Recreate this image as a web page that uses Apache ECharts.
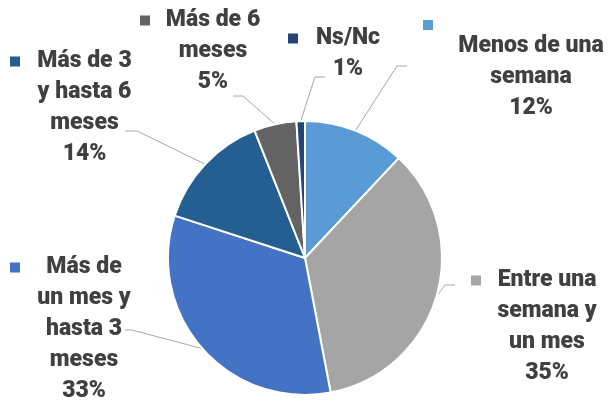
<!DOCTYPE html>
<html>
<head>
<meta charset="utf-8">
<script src="https://cdn.jsdelivr.net/npm/echarts@6/dist/echarts.min.js"></script>
<style>
  html, body { margin: 0; padding: 0; background: #fff; }
  #chart { width: 610px; height: 402px; }
</style>
</head>
<body>
<div id="chart"></div>
<script>
// datos del gráfico
const categories = [
  'Menos de una\nsemana',
  'Entre una\nsemana y\nun mes',
  'Más de\nun mes y\nhasta 3\nmeses',
  'Más de 3\ny hasta 6\nmeses',
  'Más de 6\nmeses',
  'Ns/Nc'
]
const values = [12, 35, 33, 14, 5, 1]
const colors = ['#5B9BD5', '#A5A5A5', '#4472C4', '#255E91', '#636363', '#264478']

// posición de etiquetas: [centro x, y superior, ancho caja]
const labelPos = [
  [531, 19, 216],
  [547, 265, 152],
  [84, 252, 148],
  [84.5, 46, 149],
  [213, 5, 146],
  [348, 23, 120]
]
// codo y final de la línea guía: [x codo, y, x final]
const leaderEnd = [
  [397, 66, 407],
  [445, 285, 455],
  [132, 330, 125],
  [137, 131, 125],
  [243, 96, 233],
  [315, 77, 325]
]
// la clave va en su propia línea
const keyOwnLine = [true, false, false, false, false, false]

const rich = {
  t: { fontSize: 23, fontWeight: 900, color: '#404040', lineHeight: 31, align: 'center', fontFamily: 'Roboto' },
  p: { width: 10, height: 10, lineHeight: 12, align: 'right' }
}
colors.forEach((c, i) => {
  rich['sq' + i] = { width: 10, height: 10, lineHeight: 12, align: 'left', backgroundColor: c }
})

const chart = echarts.init(document.getElementById('chart'), null, { renderer: 'canvas' })
chart.setOption({
  animation: false,
  textStyle: { fontFamily: 'Roboto' },
  series: [{
    type: 'pie',
    center: [305, 258],
    radius: 137,
    startAngle: 90,
    clockwise: true,
    avoidLabelOverlap: false,
    itemStyle: { borderColor: '#fff', borderWidth: 2 },
    label: {
      show: true,
      position: 'outside',
      overflow: 'none',
      formatter: (p) => {
        const i = p.dataIndex
        const lines = p.name.split('\n')
        let out
        if (keyOwnLine[i]) {
          out = '{sq' + i + '|}\n{t|' + lines[0] + '}'
        } else {
          out = '{sq' + i + '|}{t|' + lines[0] + '}{p|}'
        }
        for (let k = 1; k < lines.length; k++) out += '\n{t|' + lines[k] + '}'
        out += '\n{t|' + p.value + '%}'
        return out
      },
      rich: rich
    },
    labelLine: {
      show: true,
      length: 10,
      length2: 10,
      smooth: false,
      lineStyle: { color: '#A6A6A6', width: 1 }
    },
    labelLayout: (params) => {
      const i = params.dataIndex
      const pos = labelPos[i]
      const le = leaderEnd[i]
      const start = params.labelLinePoints ? params.labelLinePoints[0].slice() : [le[0], le[1]]
      return {
        x: pos[0],
        y: pos[1],
        width: pos[2],
        align: 'center',
        verticalAlign: 'top',
        labelLinePoints: [start, [le[0], le[1]], [le[2], le[1]]]
      }
    },
    data: categories.map((name, i) => ({
      name: name,
      value: values[i],
      itemStyle: { color: colors[i] }
    }))
  }]
})
</script>
</body>
</html>
